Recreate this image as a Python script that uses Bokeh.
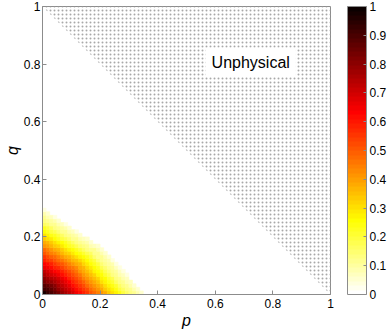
import numpy as np
from bokeh.plotting import figure
from bokeh.models import (LinearColorMapper, ColorBar, FixedTicker, LinearAxis,
                          CustomJSTickFormatter, Label, ColumnDataSource)
from bokeh.transform import transform
from bokeh.embed import file_html
from bokeh.resources import INLINE

# grid step of the heat map (both p and q)
cell = 0.0125

# heat-map values (percent), row j = q cell j (from q=0 upward), column i = p cell i
v_rows = [
    [97, 93, 90, 86, 83, 79, 76, 72, 69, 65, 62, 58, 55, 51, 48, 45, 41, 38, 34, 31, 27, 24, 20, 17, 13, 12, 9, 6],
    [92, 90, 86, 83, 79, 76, 72, 69, 66, 62, 59, 55, 52, 48, 45, 41, 38, 34, 31, 27, 24, 20, 17, 13, 12, 9, 6],
    [88, 86, 83, 80, 76, 73, 69, 66, 62, 59, 55, 52, 48, 45, 41, 38, 35, 31, 28, 24, 21, 17, 14, 12, 9, 6],
    [84, 81, 79, 76, 73, 70, 66, 63, 59, 56, 52, 49, 45, 42, 38, 35, 31, 28, 24, 21, 17, 14, 11, 9, 7],
    [80, 77, 74, 72, 69, 66, 63, 59, 56, 52, 49, 45, 42, 38, 35, 32, 28, 25, 21, 18, 14, 11, 9, 7],
    [76, 73, 70, 68, 65, 62, 59, 56, 53, 49, 46, 42, 39, 35, 32, 28, 25, 21, 18, 14, 11, 9, 7, 4],
    [72, 69, 66, 63, 61, 58, 55, 53, 49, 46, 42, 39, 35, 32, 28, 25, 22, 18, 15, 11, 10, 7, 4],
    [67, 65, 62, 59, 57, 54, 51, 48, 46, 43, 39, 36, 32, 29, 25, 22, 18, 15, 11, 10, 7, 4],
    [63, 61, 58, 55, 52, 50, 47, 44, 42, 39, 36, 32, 29, 25, 22, 19, 15, 12, 10, 8, 4],
    [59, 56, 54, 51, 48, 46, 43, 40, 37, 35, 32, 29, 26, 22, 19, 15, 12, 10, 8, 4],
    [55, 52, 49, 47, 44, 41, 39, 36, 33, 30, 28, 25, 22, 19, 15, 12, 11, 8, 5],
    [51, 48, 45, 43, 40, 37, 34, 32, 29, 26, 24, 21, 18, 16, 12, 11, 8, 5],
    [47, 44, 41, 38, 36, 33, 30, 28, 25, 22, 19, 17, 14, 11, 11, 9, 5],
    [42, 40, 37, 34, 32, 29, 26, 23, 21, 18, 15, 13, 12, 9, 7, 5],
    [38, 36, 33, 30, 27, 25, 22, 19, 17, 14, 11, 10, 9, 6],
    [34, 31, 29, 26, 23, 20, 18, 15, 12, 12, 9, 7, 5],
    [30, 27, 24, 22, 19, 16, 14, 11, 10, 8, 6],
    [26, 23, 20, 18, 15, 12, 11, 9, 7, 4],
    [22, 19, 16, 13, 11, 10, 8, 6],
    [17, 15, 12, 11, 9, 7, 4],
    [13, 11, 10, 8, 5],
    [11, 9, 7, 4],
    [8, 5],
    [4],
]

axis_ticks = [0, 0.2, 0.4, 0.6, 0.8, 1]
cbar_ticks = [0, 0.1, 0.2, 0.3, 0.4, 0.5, 0.6, 0.7, 0.8, 0.9, 1]

# unphysical region p + q > 1
unphys_p = [0, 1, 1]
unphys_q = [1, 1, 0]

# ---- build cells ----
xs, ys, vs = [], [], []
for j, row in enumerate(v_rows):
    for i, val in enumerate(row):
        if val > 0:
            xs.append((i + 0.5) * cell)
            ys.append((j + 0.5) * cell)
            vs.append(val / 100.0)
src = ColumnDataSource(dict(x=xs, y=ys, v=vs))

# inverted MATLAB "hot" colormap (64 levels)
m, n = 64, 24
hot = []
for k in range(m):
    r = min(1.0, (k + 1) / n)
    g = min(1.0, max(0.0, (k + 1 - n) / n))
    b = min(1.0, max(0.0, (k + 1 - 2 * n) / (m - 2 * n)))
    hot.append('#%02x%02x%02x' % (round(r * 255), round(g * 255), round(b * 255)))
palette = hot[::-1]
mapper = LinearColorMapper(palette=palette, low=0, high=1)

FONT = "Liberation Sans"
GRAY = "#8c8c8c"

p = figure(width=391, height=335, x_range=(0, 1), y_range=(0, 1),
           output_backend="svg", toolbar_location=None,
           min_border_left=41, min_border_top=6, min_border_bottom=41,
           min_border_right=61)
p.background_fill_color = "white"
p.border_fill_color = "white"
p.outline_line_color = GRAY
p.xgrid.visible = False
p.ygrid.visible = False

p.rect(x='x', y='y', width=cell, height=cell, source=src,
       fill_color=transform('v', mapper), line_color=transform('v', mapper),
       line_width=0.6)

p.patch(unphys_p, unphys_q, fill_alpha=0, line_color=None,
        hatch_pattern="dot", hatch_scale=4, hatch_color="#a8a8a8",
        hatch_weight=0.3)

p.add_layout(Label(x=0.723, y=0.806, text="Unphysical", text_align="center",
                   text_baseline="middle", text_font=FONT, text_font_size="16px",
                   text_color="black", background_fill_color="white",
                   padding=6))

fmt = CustomJSTickFormatter(code="return String(Math.round(tick*10)/10)")
for ax in (p.xaxis[0], p.yaxis[0]):
    ax.ticker = FixedTicker(ticks=axis_ticks)
    ax.formatter = fmt
    ax.axis_line_color = GRAY
    ax.major_tick_line_color = GRAY
    ax.major_tick_in = 4
    ax.major_tick_out = 0
    ax.minor_tick_line_color = None
    ax.major_label_text_font = FONT
    ax.major_label_text_font_size = "12px"
    ax.major_label_text_color = "black"
    ax.axis_label_text_font = FONT
    ax.axis_label_text_font_size = "16px"
    ax.axis_label_text_font_style = "italic"
    ax.axis_label_text_color = "black"
p.xaxis.axis_label = "p"
p.yaxis.axis_label = "q"
p.xaxis.major_label_standoff = 4
p.yaxis.major_label_standoff = 2
p.xaxis.axis_label_standoff = 1
p.yaxis.axis_label_standoff = 0

# invisible right axis used as a spacer between the frame and the colour bar
spacer = LinearAxis(ticker=FixedTicker(ticks=axis_ticks),
                    formatter=CustomJSTickFormatter(code="return ''"),
                    axis_line_color=None, major_tick_line_color=None,
                    minor_tick_line_color=None, major_tick_in=0, major_tick_out=17,
                    major_label_standoff=0)
p.add_layout(spacer, "right")

cb = ColorBar(color_mapper=mapper, ticker=FixedTicker(ticks=cbar_ticks),
              formatter=fmt, width=19, padding=0, margin=0,
              bar_line_color=GRAY, major_tick_line_color=GRAY,
              major_tick_in=3, major_tick_out=0,
              major_label_text_font=FONT, major_label_text_font_size="12px",
              major_label_text_color="black", label_standoff=3,
              border_line_color=None, background_fill_color=None)
p.add_layout(cb, "right")

open("out.html", "w").write(file_html(p, INLINE))
